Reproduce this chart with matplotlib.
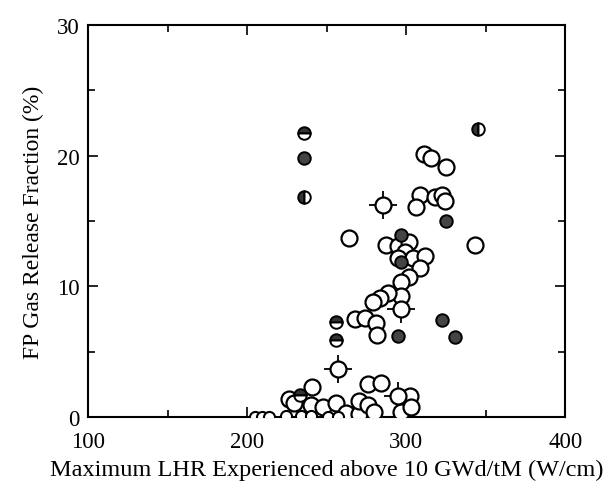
import numpy as np
import matplotlib
matplotlib.use("Agg")
import matplotlib.pyplot as plt

# open circles (large)
open_x = [311.2, 315.7, 325.1, 309.0, 318.2, 322.4, 324.6, 306.3, 343.0, 264.1,
          287.2, 294.6, 302.0, 299.6, 295.1, 304.5, 311.9, 309.0, 302.0, 296.6,
          297.1, 288.4, 283.4, 279.2, 268.1, 274.3, 280.9, 281.7,
          240.8, 276.0, 284.2, 226.4, 229.7, 240.1, 248.0, 256.2, 262.4, 270.3,
          270.3, 276.0, 279.7, 296.8, 302.5, 303.2]
open_y = [20.1, 19.8, 19.1, 17.0, 16.8, 17.0, 16.5, 16.1, 13.2, 13.7,
          13.2, 13.1, 13.4, 12.6, 12.2, 12.2, 12.3, 11.4, 10.7, 10.3,
          9.3, 9.5, 9.1, 8.8, 7.5, 7.6, 7.2, 6.3,
          2.3, 2.5, 2.6, 1.4, 1.1, 0.9, 0.8, 1.1, 0.35, 0.2,
          1.2, 0.9, 0.4, 0.4, 1.6, 0.8]

# small open circles along the axis
small_x = [204.9, 209.6, 214.0, 224.4, 233.9, 240.1, 251.2, 257.4]
small_y = [0.0, 0.0, 0.0, 0.1, 0.1, 0.1, 0.0, 0.0]

# open circles with cross hairs
cross_x = [285.2, 297.1, 257.4, 295.1]
cross_y = [16.2, 8.3, 3.7, 1.6]

# shaded (filled) circles
fill_x = [235.6, 297.1, 297.1, 325.1, 322.4, 295.1, 330.5]
fill_y = [19.8, 13.9, 11.9, 15.0, 7.4, 6.2, 6.1]

# top-half filled circles
top_x = [235.6, 256.2, 256.2, 233.1]
top_y = [21.7, 7.3, 5.9, 1.7]

# left-half filled circles
left_x = [235.6, 345.4]
left_y = [16.8, 22.0]

plt.rcParams['font.family'] = ['Liberation Serif', 'DejaVu Serif']

fig = plt.figure(figsize=(6.11, 4.89), dpi=100)
ax = fig.add_axes([0.144, 0.145, 0.781, 0.802])

ax.plot(cross_x, cross_y, linestyle='none', marker='+', markersize=20,
        markeredgewidth=1.3, color='black', zorder=2)
ax.plot(open_x, open_y, linestyle='none', marker='o', markersize=11.5,
        markerfacecolor='white', markeredgecolor='black', markeredgewidth=1.6, zorder=3)
ax.plot(cross_x, cross_y, linestyle='none', marker='o', markersize=11.5,
        markerfacecolor='white', markeredgecolor='black', markeredgewidth=1.6, zorder=3)
ax.plot(small_x, small_y, linestyle='none', marker='o', markersize=8,
        markerfacecolor='white', markeredgecolor='black', markeredgewidth=1.5, zorder=3)
ax.plot(fill_x, fill_y, linestyle='none', marker='o', markersize=9,
        markerfacecolor='#444444', markeredgecolor='black', markeredgewidth=1.4, zorder=4)
ax.plot(top_x, top_y, linestyle='none', marker='o', markersize=9, fillstyle='top',
        markerfacecolor='#333333', markerfacecoloralt='white',
        markeredgecolor='black', markeredgewidth=1.4, zorder=4)
ax.plot(left_x, left_y, linestyle='none', marker='o', markersize=9, fillstyle='left',
        markerfacecolor='#333333', markerfacecoloralt='white',
        markeredgecolor='black', markeredgewidth=1.4, zorder=4)

ax.set_xlim(100, 400)
ax.set_ylim(0, 30)
ax.set_xticks([100, 200, 300, 400])
ax.set_yticks([0, 10, 20, 30])
ax.set_xticks([150, 250, 350], minor=True)
ax.set_yticks([5, 15, 25], minor=True)
ax.tick_params(which='both', direction='in', top=True, right=True, labelsize=16.5, width=1.2)
ax.tick_params(which='major', length=7)
ax.tick_params(axis='x', which='major', pad=10)
ax.tick_params(axis='y', which='major', pad=6)
ax.tick_params(which='minor', length=5)
for s in ax.spines.values():
    s.set_linewidth(1.5)

ax.set_xlabel('Maximum LHR Experienced above 10 GWd/tM (W/cm)', fontsize=17.5, labelpad=5)
ax.set_ylabel('FP Gas Release Fraction (%)', fontsize=17, labelpad=9)

plt.savefig('out.png')
